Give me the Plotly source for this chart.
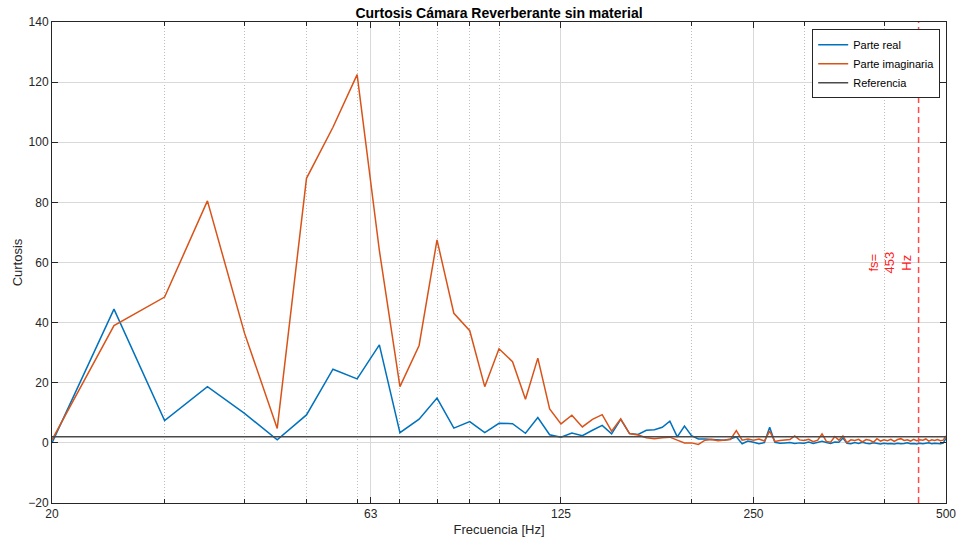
import numpy as np
import plotly.graph_objects as go

freq = list(range(20, 505, 5))

parte_real = [
    0.0, 44.5, 7.4, 18.7, 9.8, 1.0, 9.3, 24.5, 21.3, 32.6,
    3.4, 7.9, 14.9, 4.9, 7.1, 3.4, 6.5, 6.4, 3.2, 8.4,
    2.7, 1.9, 3.3, 2.4, 4.2, 5.8, 3.0, 7.8, 3.1, 2.8,
    4.2, 4.4, 5.2, 7.2, 2.0, 5.6, 2.4, 1.3, 1.3, 1.1,
    0.9, 0.9, 1.3, 2.0, -0.3, 0.6, 0.2, -0.3, 0.1, 5.2,
    0.2, -0.1, 0.0, 0.1, -0.2, 0.0, -0.1, 0.3, -0.2, 0.2,
    0.5, 0.1, -0.2, 0.3, 0.2, 1.6, -0.1, -0.3, 0.1, -0.2,
    0.2, -0.1, -0.3, 0.0, -0.2, -0.4, -0.1, -0.3, -0.2, -0.4,
    -0.1, -0.3, -0.2, 0.0, -0.3, -0.2, -0.4, -0.1, -0.3, -0.2,
    0.0, -0.3, -0.1, -0.2, -0.3, -0.1, 1.5,
]

parte_imag = [
    1.0, 39.0, 48.5, 80.5, 36.5, 4.8, 88.0, 105.0, 122.5, 64.0,
    18.7, 32.4, 67.5, 43.1, 37.3, 18.7, 31.3, 27.0, 14.5, 28.2,
    11.3, 6.3, 9.2, 5.3, 7.8, 9.4, 3.9, 8.0, 3.1, 2.6,
    1.7, 1.4, 1.7, 1.9, 0.9, 0.0, 0.0, -0.5, 0.9, 1.1,
    0.7, 0.9, 1.1, 4.1, 0.9, 1.3, 0.9, 1.3, 0.6, 3.9,
    0.5, 0.8, 1.0, 1.1, 2.3, 1.0, 0.8, 1.2, 0.4, 0.9,
    3.0, 0.5, 0.2, 2.1, 0.9, 2.3, 0.1, 1.0, 0.8, 1.2,
    0.3, 1.1, 0.9, 0.2, 1.4, 0.6, 1.0, 0.7, 1.2, 0.5,
    1.1, 1.4, 0.8, 1.0, 0.6, 1.2, 0.7, 1.0, 0.9, 1.3,
    0.6, 1.0, 0.8, 1.1, 0.7, 0.9, 2.3,
]

referencia = 2.0
fs = 453

x_ticks = [20, 63, 125, 250, 500]
x_minor = [30, 40, 50, 60, 70, 80, 90, 100, 200, 300, 400]
y_ticks = list(range(-20, 160, 20))

font_family = "Liberation Sans, Arial, sans-serif"
axis_col = "#262626"

fig = go.Figure()
fig.add_trace(go.Scatter(x=freq, y=parte_real, mode="lines", name="Parte real",
                         line=dict(color="#0072BD", width=1.5)))
fig.add_trace(go.Scatter(x=freq, y=parte_imag, mode="lines", name="Parte imaginaria",
                         line=dict(color="#D95319", width=1.5)))
fig.add_trace(go.Scatter(x=[freq[0], freq[-1]], y=[referencia, referencia], mode="lines",
                         name="Referencia", line=dict(color="#4a4a4a", width=1.5)))
fig.add_trace(go.Scatter(x=[fs, fs], y=[-20, 140], mode="lines", showlegend=False,
                         line=dict(color="#FF4A4A", width=1.5, dash="6px,4px")))

fig.add_annotation(x=np.log10(fs), y=60, xref="x", yref="y", text="fs=<br>453<br>Hz",
                   textangle=-90, showarrow=False, xanchor="right", xshift=-2,
                   font=dict(color="#FF2020", size=13, family=font_family), align="center")

fig.update_layout(
    width=956, height=539,
    margin=dict(l=52, r=10, t=22, b=36, autoexpand=False),
    paper_bgcolor="white", plot_bgcolor="white",
    font=dict(family=font_family, size=12, color=axis_col),
    title=dict(text="<b>Curtosis Cámara Reverberante sin material</b>", x=0.5, xanchor="center",
               xref="paper", y=0.985, yanchor="top", font=dict(size=14, color="black")),
    legend=dict(x=0.9935, y=0.985, xanchor="right", yanchor="top",
                bordercolor="#262626", borderwidth=1, bgcolor="white",
                font=dict(size=11, color="black"), tracegroupgap=0,
                itemwidth=30),
    showlegend=True,
)

fig.update_xaxes(
    type="log", range=[np.log10(20), np.log10(500)], automargin=False,
    tickmode="array", tickvals=x_ticks, ticktext=[str(v) for v in x_ticks],
    ticklabeloverflow="allow",
    ticks="inside", ticklen=6, tickcolor=axis_col,
    showgrid=True, gridcolor="#d9d9d9", gridwidth=1,
    minor=dict(tickmode="array", tickvals=x_minor, ticks="inside", ticklen=4,
               tickcolor=axis_col, showgrid=True, gridcolor="#bdbdbd", griddash="1px,2px", gridwidth=1),
    showline=True, linecolor=axis_col, linewidth=1, mirror="ticks",
    zeroline=False,
    title=dict(text="Frecuencia [Hz]", standoff=4, font=dict(size=13)),
)
fig.update_yaxes(
    range=[-20, 140], tickmode="array", tickvals=y_ticks, automargin=False,
    ticklabeloverflow="allow",
    ticks="inside", ticklen=6, tickcolor=axis_col,
    showgrid=True, gridcolor="#d9d9d9", gridwidth=1,
    showline=True, linecolor=axis_col, linewidth=1, mirror="ticks",
    zeroline=False,
    title=dict(text="Curtosis", standoff=2, font=dict(size=13)),
)

fig.write_html("out.html")
